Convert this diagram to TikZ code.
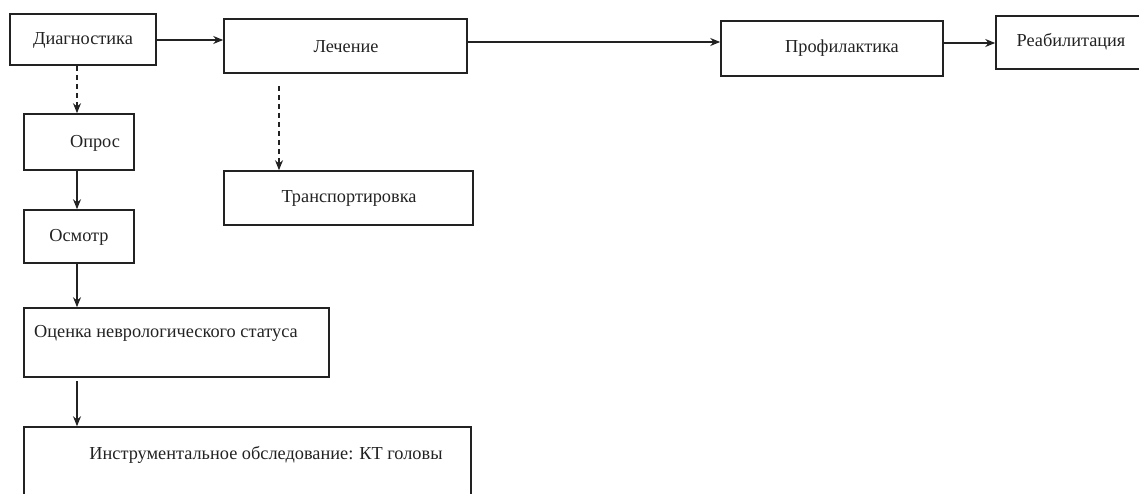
\documentclass[tikz,border=0pt]{standalone}
\usepackage{fontspec}
\setmainfont{Liberation Serif}
\usetikzlibrary{arrows.meta}
\definecolor{ink}{HTML}{222222}
\tikzset{
  box/.style={draw=ink, line width=1.6pt, rectangle, inner sep=0pt},
  lbl/.style={inner sep=0pt, text=ink, font=\fontsize{18.3}{20}\selectfont},
  arr/.style={draw=ink, line width=1.2pt, -{Stealth[length=10pt,width=8pt]}},
  darr/.style={arr, dash pattern=on 5pt off 4pt}
}
\begin{document}
\begin{tikzpicture}[x=1pt,y=-1pt]
\useasboundingbox (0,0) rectangle (1139,494);
\clip (0,0) rectangle (1139,494);
% boxes
\node[box, minimum width=146pt, minimum height=51pt] (diag) at (83,39.5) {};
\node[lbl] at (83,40) {Диагностика};
\node[box, minimum width=243pt, minimum height=54pt] (lech) at (345.5,46) {};
\node[lbl] at (346,47) {Лечение};
\node[box, minimum width=222pt, minimum height=55pt] (prof) at (832,48.5) {};
\node[lbl] at (842,48) {Профилактика};
\node[box, minimum width=166pt, minimum height=53pt] (reab) at (1079,42.5) {};
\node[lbl] at (1071,42) {Реабилитация};
\node[box, minimum width=110pt, minimum height=56pt] (opros) at (79,142) {};
\node[lbl] at (95,143) {Опрос};
\node[box, minimum width=110pt, minimum height=53pt] (osm) at (79,236.5) {};
\node[lbl] at (79,237) {Осмотр};
\node[box, minimum width=249pt, minimum height=54pt] (trans) at (348.5,198) {};
\node[lbl] at (349,198) {Транспортировка};
\node[box, minimum width=305pt, minimum height=69pt] (ocen) at (176.5,342.5) {};
\node[lbl, anchor=west] at (34,333) {Оценка неврологического статуса};
\node[box, minimum width=447pt, minimum height=100pt] (instr) at (247.5,477) {};
\node[lbl] at (266,455) {Инструментальное обследование: КТ головы};
% connectors
\coordinate (ax) at (77,0);
\coordinate (bx) at (279,0);
\coordinate (lechs) at (279,86);
\coordinate (ocens) at (77,381);
\draw[arr] (diag.east |- 0,40) -- (lech.west |- 0,40);
\draw[arr] (lech.east |- 0,42) -- (prof.west |- 0,42);
\draw[arr] (prof.east |- 0,43) -- (reab.west |- 0,43);
\draw[darr] (diag.south -| ax) -- (opros.north -| ax);
\draw[darr] (lechs) -- (trans.north -| bx);
\draw[arr] (opros.south -| ax) -- (osm.north -| ax);
\draw[arr] (osm.south -| ax) -- (ocen.north -| ax);
\draw[arr] (ocens) -- (instr.north -| ax);
\end{tikzpicture}
\end{document}
